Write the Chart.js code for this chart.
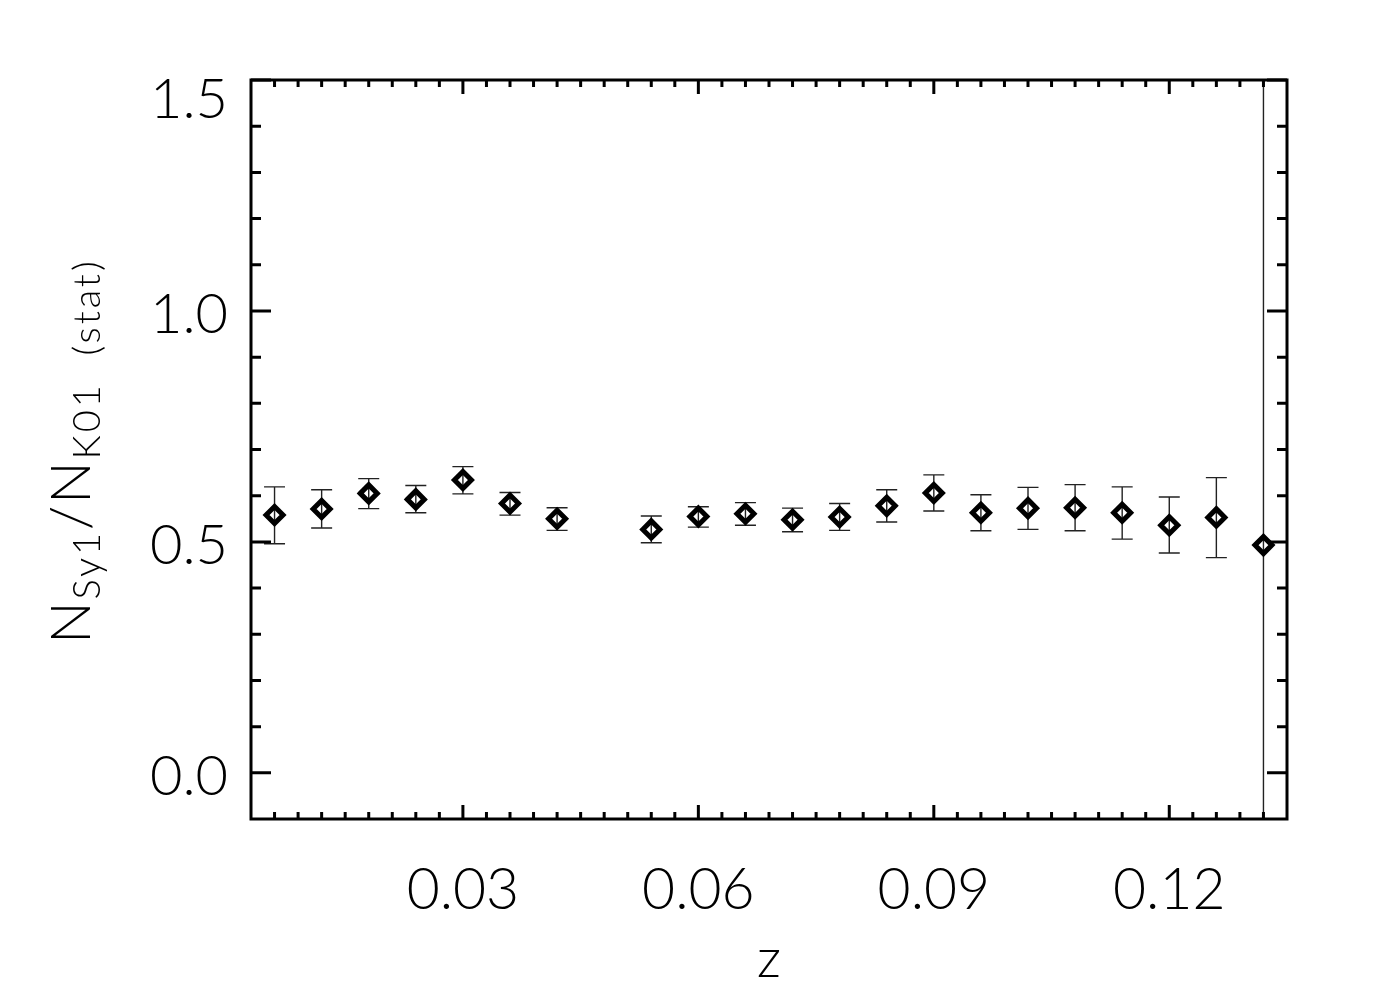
<!DOCTYPE html>
<html>
<head>
<meta charset="utf-8">
<script src="https://cdn.jsdelivr.net/npm/chart.js@4.4.1/dist/chart.umd.min.js"></script>
<style>
  html, body { margin: 0; padding: 0; background: #fff; }
</style>
</head>
<body>
<canvas id="ratioChart" width="1400" height="1000"></canvas>
<script>
// redshift bins (no point at z = 0.048)
const redshift = [0.006, 0.012, 0.018, 0.024, 0.030, 0.036, 0.042,
                  0.054, 0.060, 0.066, 0.072, 0.078, 0.084, 0.090,
                  0.096, 0.102, 0.108, 0.114, 0.120, 0.126, 0.132];
const ratio = [0.558, 0.571, 0.605, 0.592, 0.634, 0.583, 0.550,
               0.527, 0.555, 0.561, 0.548, 0.554, 0.578, 0.606,
               0.563, 0.573, 0.574, 0.563, 0.536, 0.553, 0.493];
const ratioLow = [0.496, 0.530, 0.572, 0.563, 0.604, 0.558, 0.525,
                  0.498, 0.532, 0.536, 0.522, 0.525, 0.543, 0.567,
                  0.524, 0.527, 0.524, 0.506, 0.476, 0.466, -0.5];
const ratioHigh = [0.619, 0.613, 0.637, 0.622, 0.663, 0.607, 0.574,
                   0.556, 0.576, 0.585, 0.573, 0.583, 0.613, 0.645,
                   0.602, 0.618, 0.624, 0.619, 0.597, 0.639, 2.0];

const xTickValues = [0.03, 0.06, 0.09, 0.12];
const xTickLabels = ['0.03', '0.06', '0.09', '0.12'];
const yTickValues = [0.0, 0.5, 1.0, 1.5];
const yTickLabels = ['0.0', '0.5', '1.0', '1.5'];

const FONT = 'Lato';

// error bars, frame with inward ticks, y labels and the y title
const idlFrame = {
  id: 'idlFrame',
  beforeDatasetsDraw(chart) {
    const {ctx, chartArea: a, scales: {x, y}} = chart;
    ctx.save();
    ctx.beginPath();
    ctx.rect(a.left, a.top, a.right - a.left, a.bottom - a.top);
    ctx.clip();
    ctx.strokeStyle = '#222';
    ctx.lineWidth = 1.4;
    redshift.forEach((z, i) => {
      const px = x.getPixelForValue(z);
      const lo = y.getPixelForValue(ratioLow[i]);
      const hi = y.getPixelForValue(ratioHigh[i]);
      ctx.beginPath();
      ctx.moveTo(px, lo); ctx.lineTo(px, hi);
      ctx.moveTo(px - 10.5, lo); ctx.lineTo(px + 10.5, lo);
      ctx.moveTo(px - 10.5, hi); ctx.lineTo(px + 10.5, hi);
      ctx.stroke();
    });
    ctx.restore();
  },
  afterDraw(chart) {
    const {ctx, chartArea: a, scales: {x, y}} = chart;
    ctx.save();
    ctx.strokeStyle = '#000';
    ctx.lineWidth = 3;
    ctx.lineCap = 'square';
    ctx.strokeRect(a.left, a.top, a.right - a.left, a.bottom - a.top);

    ctx.lineCap = 'butt';
    ctx.beginPath();
    // x ticks every 0.003, long ones at the labelled values
    for (let k = 2; k * 0.003 < x.max - 1e-9; k++) {
      const v = k * 0.003;
      const px = x.getPixelForValue(v);
      const major = xTickValues.some(t => Math.abs(t - v) < 1e-6);
      const len = major ? 14 : 7;
      ctx.moveTo(px, a.bottom); ctx.lineTo(px, a.bottom - len);
      ctx.moveTo(px, a.top); ctx.lineTo(px, a.top + len);
    }
    // y ticks every 0.1
    for (let k = 0; k <= 15; k++) {
      const v = k * 0.1;
      const py = y.getPixelForValue(v);
      const len = k % 5 === 0 ? 20 : 10;
      ctx.moveTo(a.left, py); ctx.lineTo(a.left + len, py);
      ctx.moveTo(a.right, py); ctx.lineTo(a.right - len, py);
    }
    ctx.stroke();

    // y tick labels
    ctx.fillStyle = '#000';
    ctx.font = `300 56px ${FONT}`;
    ctx.textAlign = 'right';
    ctx.textBaseline = 'alphabetic';
    yTickValues.forEach((v, i) => {
      const py = y.getPixelForValue(v);
      const base = Math.max(py + 22, a.top + 38);
      ctx.fillText(yTickLabels[i], a.left - 23, base);
    });

    // y title: N_Sy1 / N_K01 (stat)
    const parts = [
      {t: 'N', size: 56, sub: false},
      {t: 'Sy1', size: 38, sub: true},
      {t: '/', size: 56, sub: false},
      {t: 'N', size: 56, sub: false},
      {t: 'K01', size: 38, sub: true},
      {t: '  (stat)', size: 38, sub: true}
    ];
    let total = 0;
    parts.forEach(p => {
      ctx.font = `300 ${p.size}px ${FONT}`;
      ctx.letterSpacing = p.sub ? '3px' : '2px';
      p.w = ctx.measureText(p.t).width;
      total += p.w;
    });
    ctx.translate(90, 451);
    ctx.rotate(-Math.PI / 2);
    ctx.textAlign = 'left';
    let cx = -total / 2;
    parts.forEach(p => {
      ctx.font = `300 ${p.size}px ${FONT}`;
      ctx.letterSpacing = p.sub ? '3px' : '2px';
      ctx.fillText(p.t, cx, p.sub ? 10 : 0);
      cx += p.w;
    });
    ctx.restore();
  }
};

new Chart(document.getElementById('ratioChart'), {
  type: 'scatter',
  data: {
    datasets: [{
      data: redshift.map((z, i) => ({x: z, y: ratio[i]})),
      pointStyle: 'rectRot',
      pointRadius: 8.5,
      borderWidth: 5,
      borderColor: '#000',
      backgroundColor: 'rgba(0,0,0,0)',
      showLine: false
    }]
  },
  options: {
    responsive: false,
    devicePixelRatio: 1,
    animation: false,
    layout: { padding: { left: 0, right: 113, top: 80, bottom: 0 } },
    plugins: {
      legend: { display: false },
      tooltip: { enabled: false }
    },
    scales: {
      x: {
        type: 'linear',
        min: 0.003,
        max: 0.135,
        grid: { display: false, drawTicks: false },
        border: { display: false },
        afterBuildTicks: scale => { scale.ticks = xTickValues.map(v => ({value: v})); },
        afterFit: scale => { scale.height = 181; },
        ticks: {
          padding: 37,
          color: '#000',
          font: { family: FONT, size: 57, weight: 300 },
          callback: (v) => xTickLabels[xTickValues.findIndex(t => Math.abs(t - v) < 1e-6)]
        },
        title: {
          display: true,
          text: 'z',
          color: '#000',
          font: { family: FONT, size: 54, weight: 300 },
          padding: { top: 0, bottom: 8 }
        }
      },
      y: {
        type: 'linear',
        min: -0.1,
        max: 1.5,
        grid: { display: false, drawTicks: false },
        border: { display: false },
        afterBuildTicks: scale => { scale.ticks = yTickValues.map(v => ({value: v})); },
        afterFit: scale => { scale.width = 251; },
        ticks: { display: false }
      }
    }
  },
  plugins: [idlFrame]
});
</script>
</body>
</html>
